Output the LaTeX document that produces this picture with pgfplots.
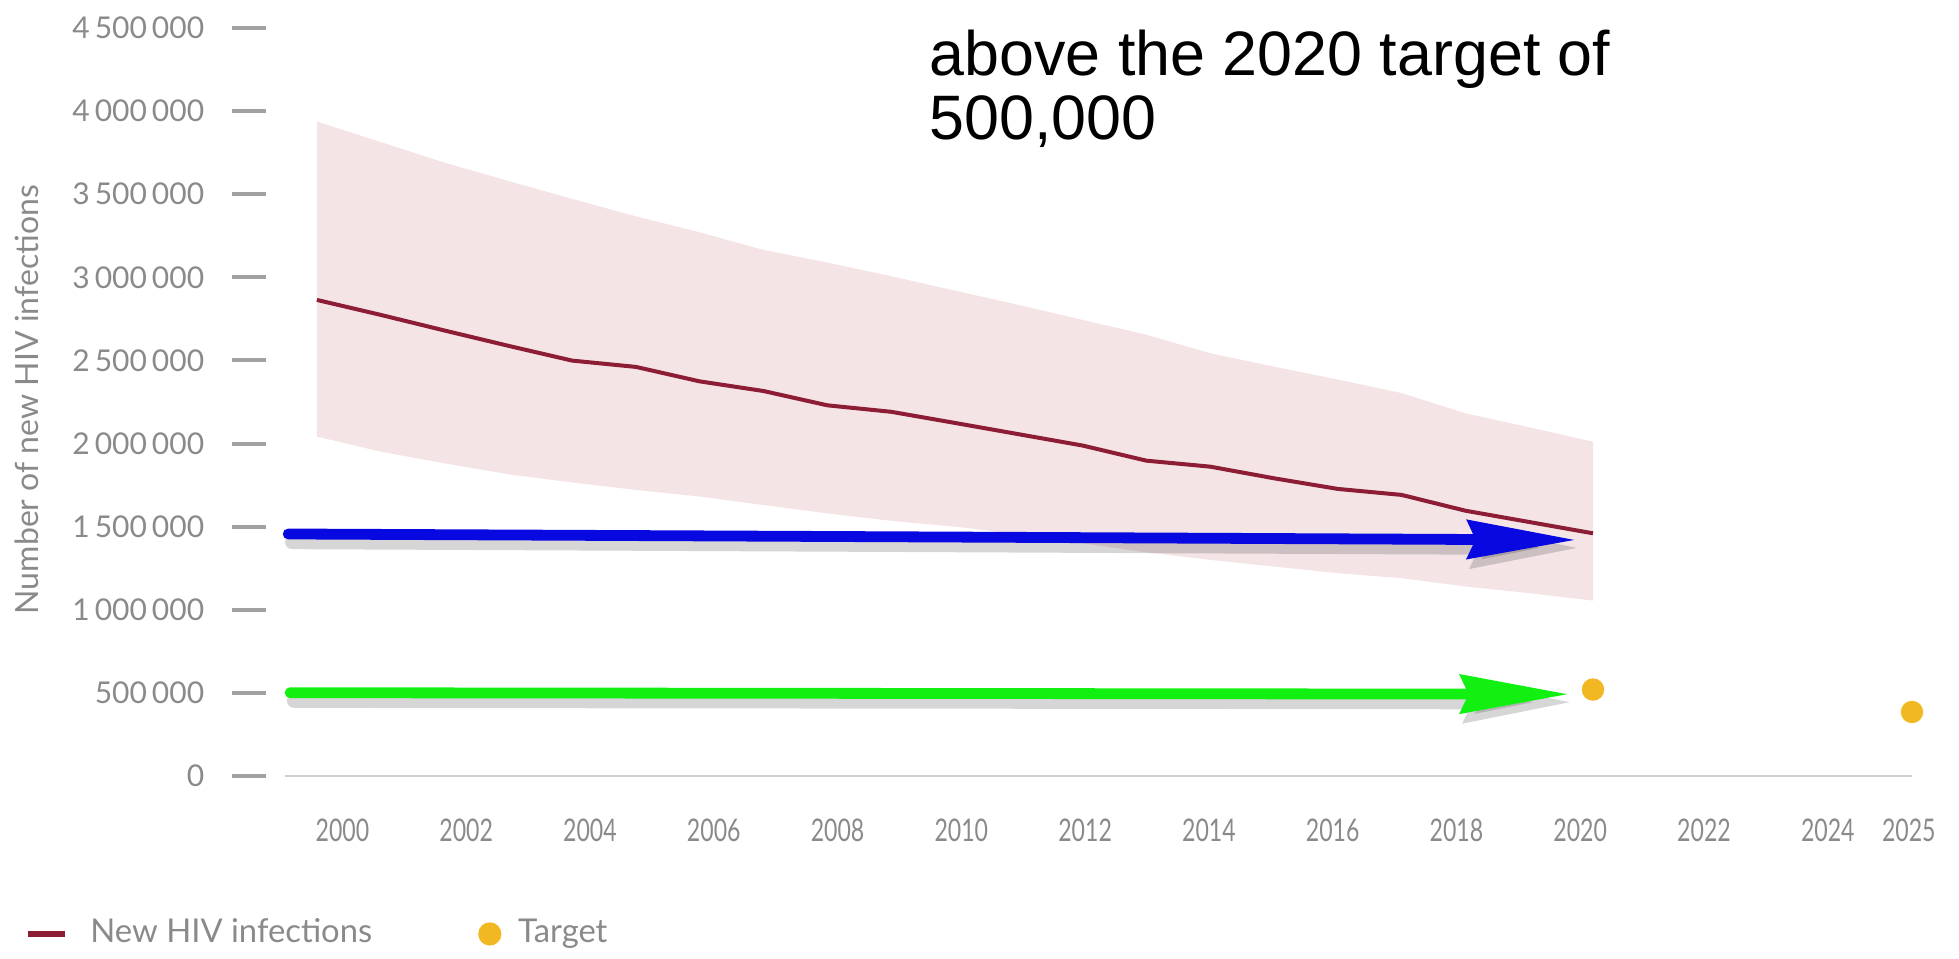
\documentclass[border=0pt]{standalone}
\usepackage{fontspec}
\setmainfont{Lato}
\newfontfamily\titlefont{Liberation Sans}
\usepackage{graphicx}
\usepackage{pgfplots}
\usepackage{pgfplotstable}
\pgfplotsset{compat=1.18}
\usepgfplotslibrary{fillbetween}
\usetikzlibrary{arrows.meta}
\definecolor{hivred}{HTML}{8C1D34}
\definecolor{bandpink}{HTML}{F4E4E6}
\definecolor{target}{HTML}{F2B824}
\definecolor{txtgray}{HTML}{8A8A8A}
\definecolor{axgray}{HTML}{D0D0D0}
\definecolor{arrblue}{HTML}{0808E0}
\definecolor{arrgreen}{HTML}{12F012}
\newcommand\cx[1]{\scalebox{0.74}[1]{#1}}

\pgfplotstableread{
year central lower upper
2000 2864000 2042000 3937000
2001 2774000 1951000 3814000
2002 2680000 1881000 3690000
2003 2588000 1815000 3580000
2004 2499000 1766000 3472000
2005 2461000 1721000 3367000
2006 2374000 1681000 3271000
2007 2316000 1630000 3165000
2008 2230000 1580000 3089000
2009 2191000 1535000 3007000
2010 2124000 1500000 2920000
2011 2056000 1455000 2834000
2012 1988000 1400000 2744000
2013 1897000 1345000 2655000
2014 1861000 1300000 2543000
2015 1791000 1260000 2463000
2016 1727000 1220000 2385000
2017 1691000 1190000 2304000
2018 1596000 1140000 2182000
2019 1528000 1100000 2098000
2020 1460000 1055000 2011000
}\hivdata
\pgfplotstableread{
year value
2020 520000
2025 385000
}\targets
\pgfplotstableread{
x y
1999.55 1456000
2019.73 1420000
}\bluearrow
\pgfplotstableread{
x y
1999.58 501000
2019.62 492000
}\greenarrow

\begin{document}
\begin{tikzpicture}
\begin{axis}[
  at={(0pt,0pt)}, anchor=south west,
  scale only axis, width=406.75pt, height=187pt,
  xmin=1999.5, xmax=2025, ymin=0, ymax=4500000,
  clip=false,
  axis line style={draw=none},
  major tick length=0pt,
  xtick={2000.40,2002.34,2004.28,2006.22,2008.16,2010.10,2012.04,2013.98,2015.92,2017.86,2019.80,2021.74,2023.68,2024.95},
  xticklabels={\cx{2000},\cx{2002},\cx{2004},\cx{2006},\cx{2008},\cx{2010},\cx{2012},\cx{2014},\cx{2016},\cx{2018},\cx{2020},\cx{2022},\cx{2024},\cx{2025}},
  xticklabel style={anchor=north, inner sep=0pt, yshift=-10.5pt, font=\fontsize{7.8}{9}\selectfont, text=txtgray},
  ytick={0,500000,1000000,1500000,2000000,2500000,3000000,3500000,4000000,4500000},
  scaled y ticks=false,
  yticklabel={\pgfmathprintnumber{\tick}\hspace{7pt}{\color{txtgray!80}\rule[2.2pt]{8.5pt}{1pt}}},
  yticklabel style={anchor=east, inner sep=0pt, xshift=-4.5pt, font=\fontsize{7.5}{9}\selectfont, text=txtgray,
    /pgf/number format/.cd, fixed, precision=0, 1000 sep={\,}, assume math mode=true},
  ylabel={Number of new HIV infections},
  ylabel style={at={(axis description cs:-0.1586,0.503)}, anchor=center, font=\fontsize{8}{10}\selectfont, text=txtgray},
  legend style={at={(axis description cs:-0.1598,-0.2112)}, anchor=west, draw=none, fill=none,
    inner sep=0pt, outer sep=0pt, font=\fontsize{8.2}{10}\selectfont, text=txtgray,
    nodes={inner sep=0pt},
    /tikz/column 1/.append style={column sep=5.5pt},
    /tikz/column 2/.append style={column sep=26.5pt},
    /tikz/column 3/.append style={column sep=4.2pt}},
  legend columns=2,
  legend cell align=left,
]
\addplot[name path=up, draw=none, forget plot] table[x=year,y=upper]{\hivdata};
\addplot[name path=low, draw=none, forget plot] table[x=year,y=lower]{\hivdata};
\addplot[bandpink, forget plot] fill between[of=up and low];

\draw[axgray, line width=0.7pt] (rel axis cs:0,0) -- (rel axis cs:1,0);

\addplot[hivred, line width=1pt, line join=round, no markers,
  legend image code/.code={\draw[hivred, line width=1.6pt] (0pt,0pt) -- (9.25pt,0pt);}]
  table[x=year,y=central]{\hivdata};
\addlegendentry{New HIV infections}

% arrow shadows
\addplot[black, opacity=0.16, line width=3.6pt, line cap=round, forget plot, xshift=1pt, yshift=-2pt,
  -{Stealth[length=27pt,width=10pt,inset=2pt]}] table[x=x,y=y]{\bluearrow};
\addplot[black, opacity=0.16, line width=3.6pt, line cap=round, forget plot, xshift=1pt, yshift=-2pt,
  -{Stealth[length=27pt,width=10pt,inset=2pt]}] table[x=x,y=y]{\greenarrow};
% arrows
\addplot[arrblue, line width=2.7pt, line cap=round, forget plot,
  -{Stealth[length=27pt,width=9.5pt,inset=2pt]}] table[x=x,y=y]{\bluearrow};
\addplot[arrgreen, line width=2.7pt, line cap=round, forget plot,
  -{Stealth[length=27pt,width=9.5pt,inset=2pt]}] table[x=x,y=y]{\greenarrow};

\addplot[target, only marks, mark=*, mark size=2.6pt, mark options={fill=target, draw=target},
  legend image code/.code={\fill[target] (2.7pt,0pt) circle (2.7pt);}]
  table[x=year,y=value]{\targets};
\addlegendentry{Target}

\node[anchor=base west, inner sep=0pt, font=\titlefont\fontsize{15.7}{18}\selectfont] at (axis cs:2009.59,4212000) {above the 2020 target of};
\node[anchor=base west, inner sep=0pt, font=\titlefont\fontsize{15.7}{18}\selectfont] at (axis cs:2009.59,3827000) {500,000};
\end{axis}
\pgfresetboundingbox
\useasboundingbox (-71.25pt,-45.75pt) rectangle (418.5pt,194pt);
\end{tikzpicture}
\end{document}
